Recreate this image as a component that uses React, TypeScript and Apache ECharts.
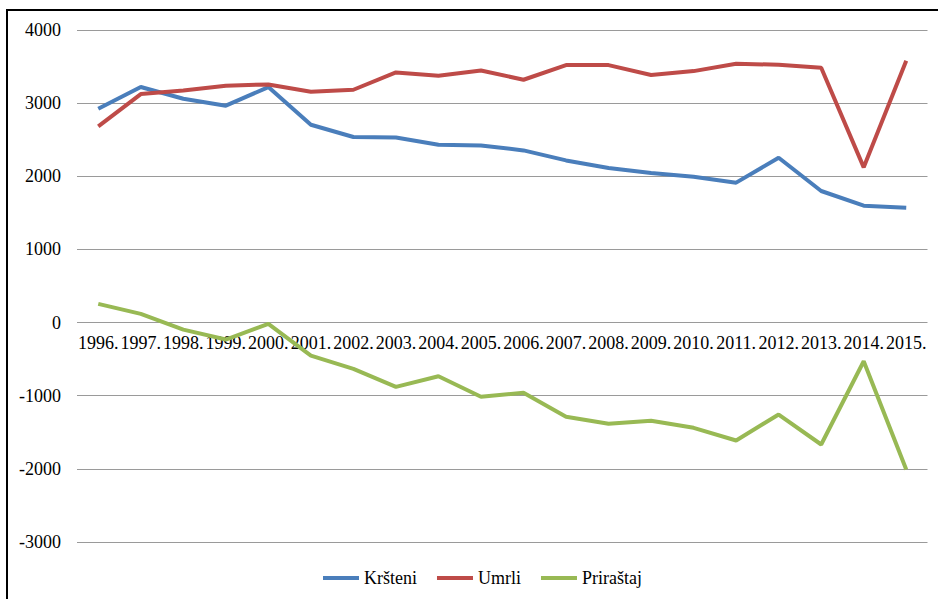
import React, { useEffect, useRef } from "react";
import * as echarts from "echarts";

const years = [
  "1996.", "1997.", "1998.", "1999.", "2000.", "2001.", "2002.", "2003.", "2004.", "2005.",
  "2006.", "2007.", "2008.", "2009.", "2010.", "2011.", "2012.", "2013.", "2014.", "2015.",
];
const krsteni = [2923, 3220, 3060, 2965, 3220, 2705, 2537, 2530, 2432, 2422, 2354, 2217, 2113, 2045, 1995, 1913, 2254, 1799, 1598, 1571];
const umrli = [2682, 3124, 3173, 3238, 3256, 3156, 3183, 3420, 3374, 3447, 3320, 3520, 3520, 3384, 3438, 3538, 3525, 3484, 2122, 3579];
const prirastaj = [255, 119, -96, -232, -18, -451, -633, -879, -733, -1015, -960, -1288, -1384, -1343, -1439, -1612, -1257, -1667, -529, -2008];

const seriesNames = ["Kršteni", "Umrli", "Priraštaj"];
const colors = ["#4A7EBB", "#BE4B48", "#98B954"];
const FONT = "'Liberation Serif', 'Times New Roman', serif";

export default function App() {
  const ref = useRef<HTMLDivElement>(null);
  useEffect(() => {
    if (!ref.current) return;
    const chart = echarts.init(ref.current, null, { renderer: "svg" });
    const dataSets = [krsteni, umrli, prirastaj];
    chart.setOption({
      animation: false,
      backgroundColor: "#ffffff",
      textStyle: { fontFamily: FONT },
      graphic: [
        {
          type: "rect",
          shape: { x: 7, y: 10, width: 1000, height: 700 },
          style: { fill: "none", stroke: "#000", lineWidth: 2 },
          silent: true,
        },
      ],
      grid: { left: 77, right: 10.5, top: 30, bottom: 57, containLabel: false },
      legend: {
        left: 323,
        top: 569,
        padding: 0,
        icon: "rect",
        itemWidth: 36,
        itemHeight: 4,
        itemGap: 20,
        data: seriesNames,
        textStyle: { fontFamily: FONT, fontSize: 18, color: "#000" },
      },
      xAxis: {
        type: "category",
        data: years,
        boundaryGap: true,
        offset: -219,
        axisLine: { show: false, onZero: false },
        axisTick: { show: false },
        axisLabel: { fontFamily: FONT, fontSize: 18, color: "#000", margin: 11, interval: 0 },
        splitLine: { show: false },
      },
      yAxis: {
        type: "value",
        min: -3000,
        max: 4000,
        interval: 1000,
        axisLine: { show: false },
        axisTick: { show: false },
        axisLabel: {
          fontFamily: FONT,
          fontSize: 18,
          color: "#000",
          margin: 16,
          formatter: (v: number) => String(v),
        },
        splitLine: { show: true, lineStyle: { color: "#9a9a9a", width: 1 } },
      },
      series: seriesNames.map((name, i) => ({
        name,
        type: "line",
        data: dataSets[i],
        symbol: "none",
        showSymbol: false,
        lineStyle: { color: colors[i], width: 4 },
        itemStyle: { color: colors[i] },
      })),
    });
    return () => chart.dispose();
  }, []);
  return (
    <div
      ref={ref}
      style={{ position: "absolute", left: 0, top: 0, width: 938, height: 599 }}
    />
  );
}
